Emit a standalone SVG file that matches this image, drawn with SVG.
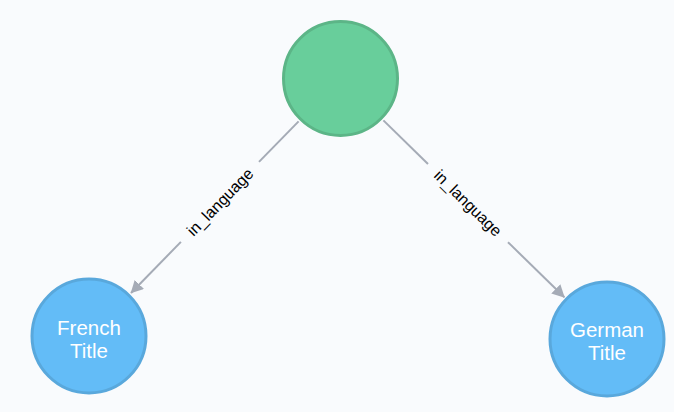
<svg xmlns="http://www.w3.org/2000/svg" width="674" height="412" viewBox="0 0 674 412">
<defs>
<marker id="arr" markerUnits="userSpaceOnUse" markerWidth="14" markerHeight="14" refX="12" refY="6.5" orient="auto">
<path d="M0,0 L12.5,6.5 L0,13 z" fill="#a5abb6"/>
</marker>
<style>
.edge{stroke:#a5abb6;stroke-width:2;fill:none}
.elabel{font-family:"Liberation Sans",Arial,sans-serif;font-size:16px;fill:#000;text-anchor:middle}
.green{fill:#68ce9b;stroke:#5cb587;stroke-width:3}
.blue{fill:#63bcf7;stroke:#59a8dc;stroke-width:3}
.nlabel{font-family:"Liberation Sans",Arial,sans-serif;font-size:20.5px;fill:#fff;text-anchor:middle}
</style>
</defs>
<rect width="674" height="412" fill="#f9fbfd"/>
<g id="connectors">
<g id="edge-french">
<line class="edge" x1="298.6" y1="121.4" x2="259" y2="161.9"/>
<line class="edge" x1="180.9" y1="241.9" x2="131" y2="293" marker-end="url(#arr)"/>
<text class="elabel" transform="translate(220,202) rotate(-45.7)" dy="0.35em">in_language</text>
</g>
<g id="edge-german">
<line class="edge" x1="383.4" y1="120.4" x2="428" y2="164"/>
<line class="edge" x1="508" y1="242.2" x2="564.4" y2="297.3" marker-end="url(#arr)"/>
<text class="elabel" transform="translate(468,203) rotate(44.35)" dy="0.35em">in_language</text>
</g>
</g>
<g id="node-top">
<circle class="green" cx="340.5" cy="78.5" r="57"/>
</g>
<g id="node-french">
<circle class="blue" cx="89" cy="336" r="57"/>
<text class="nlabel" x="89" y="334.5">French</text>
<text class="nlabel" x="89" y="357.5">Title</text>
</g>
<g id="node-german">
<circle class="blue" cx="607" cy="339" r="57"/>
<text class="nlabel" x="607" y="337">German</text>
<text class="nlabel" x="607" y="360">Title</text>
</g>
</svg>
